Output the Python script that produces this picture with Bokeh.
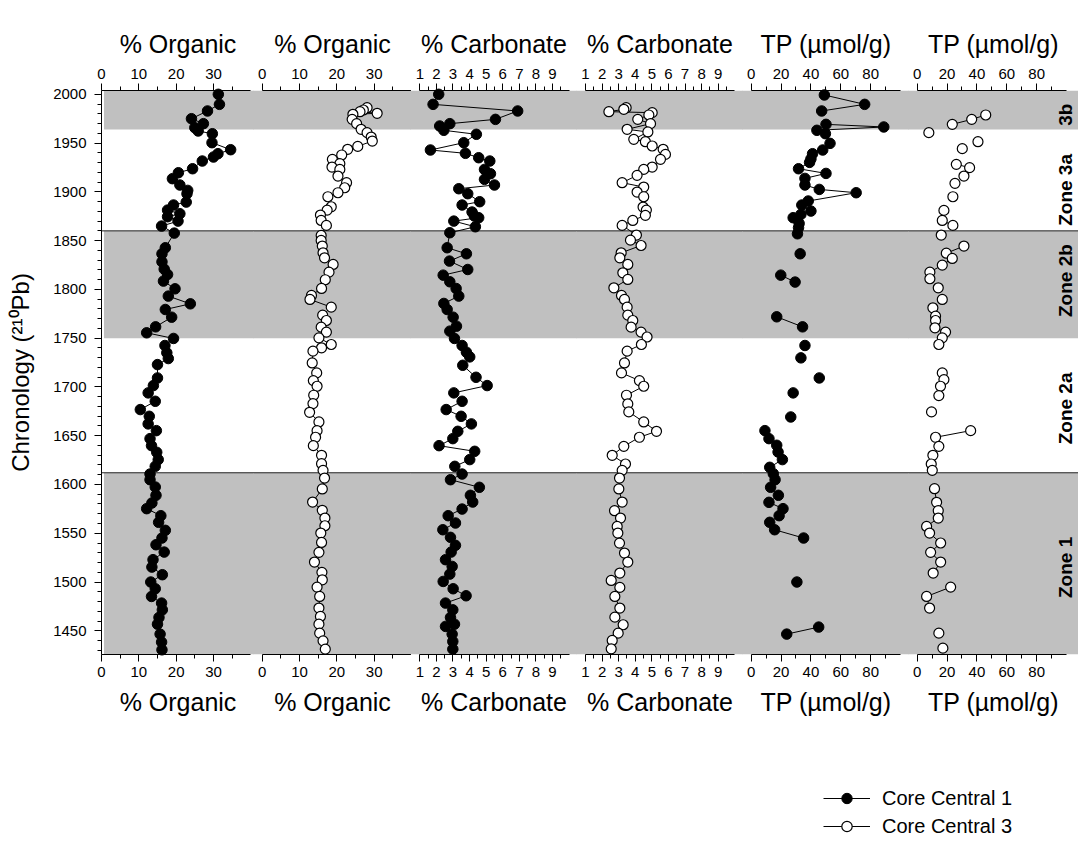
import math
from bokeh.plotting import figure
from bokeh.layouts import row, column
from bokeh.models import (Range1d, LinearAxis, FixedTicker, Span, BoxAnnotation,
                          Label, Legend, LegendItem, ColumnDataSource)
from bokeh.embed import file_html
from bokeh.resources import INLINE

nan = float("nan")

# ---------------- data ----------------
# Core Central 1, % Organic
org1_year = [2000.0, 1989.7, 1982.9, 1975.0, 1969.9, 1965.8, 1962.4, 1959.6, 1950.4, 1943.2,
             1939.1, 1935.7, 1931.6, 1923.7, 1919.6, 1913.5, 1907.0, 1901.5, 1898.1, 1889.5,
             1886.5, 1881.3, 1877.6, 1874.5, 1870.0, 1864.9, 1857.7, 1842.7, 1836.5, 1828.3,
             1820.8, 1815.3, 1808.5, 1800.6, 1793.1, 1785.2, 1779.4, 1771.5, 1761.6, 1755.5,
             1749.7, 1742.5, 1735.0, 1729.1, 1722.9, 1709.2, 1701.4, 1693.9, 1685.3, 1676.8,
             1669.9, 1662.1, 1655.2, 1647.0, 1639.8, 1633.0, 1625.5, 1618.6, 1610.7, 1604.9,
             1597.4, 1588.9, 1581.0, 1575.2, 1568.0, 1561.2, 1553.0, 1545.1, 1538.2, 1530.7,
             1522.9, 1515.3, 1507.5, 1500.0, 1493.1, 1485.2, 1478.4, 1471.5, 1463.7, 1456.8,
             1446.6, 1438.4, 1430.5]
org1_val = [31.3, 31.6, 28.4, 24.1, 27.3, 25.0, 25.9, 29.7, 29.6, 34.6,
            31.2, 30.0, 27.0, 24.4, 20.6, 19.0, 21.0, 23.1, 22.9, 22.7,
            19.3, 17.7, 21.0, 17.7, 20.5, 16.1, 19.5, 17.1, 16.2, 16.2,
            16.8, 17.7, 16.6, 19.7, 17.9, 23.8, 17.1, 18.8, 14.5, 12.1,
            19.3, 17.0, 17.5, 17.9, 15.0, 15.0, 13.9, 12.5, 14.4, 10.4,
            12.8, 12.5, 14.7, 13.0, 13.4, 14.8, 15.2, 14.4, 13.0, 13.0,
            14.4, 14.6, 13.5, 12.1, 15.9, 15.3, 17.1, 16.2, 14.6, 16.8,
            13.8, 13.5, 16.3, 13.2, 14.4, 13.4, 16.1, 16.3, 15.4, 15.0,
            15.7, 16.1, 16.2]

# Core Central 3, % Organic
org3_year = [1986.3, 1983.9, 1982.2, 1980.5, 1979.5, 1974.3, 1969.9, 1964.1, 1960.7, 1956.2,
             1952.1, 1946.6, 1943.6, 1937.8, 1933.3, 1928.9, 1925.4, 1923.0, 1916.2, 1909.4,
             1904.2, 1899.1, 1895.0, 1884.7, 1881.3, 1876.2, 1870.7, 1865.6, 1855.3, 1850.2,
             1844.4, 1837.5, 1832.4, 1825.6, 1817.7, 1809.9, 1801.0, 1793.8, 1789.7, 1781.8,
             1773.6, 1768.1, 1761.3, 1756.2, 1750.3, 1743.5, 1740.1, 1736.7, 1724.6, 1714.4,
             1706.5, 1700.7, 1691.5, 1682.9, 1674.0, 1664.1, 1655.2, 1648.4, 1639.8, 1629.9,
             1621.3, 1614.5, 1606.6, 1595.4, 1582.0, 1573.5, 1565.6, 1557.7, 1550.2, 1540.6,
             1530.4, 1520.5, 1509.9, 1502.3, 1494.8, 1485.2, 1473.3, 1464.7, 1456.8, 1447.6,
             1439.7, 1431.2]
org3_val = [28.1, 27.1, 26.2, 30.8, 24.3, 24.1, 25.3, 26.5, 28.1, 29.2,
            29.5, 25.6, 22.9, 21.3, 18.8, 20.8, 18.7, 20.8, 20.3, 22.6,
            22.1, 20.3, 17.6, 18.5, 17.4, 15.6, 15.8, 17.2, 15.8, 15.8,
            16.1, 16.3, 16.7, 19.0, 17.9, 16.9, 15.9, 13.2, 12.8, 18.5,
            16.2, 17.2, 15.8, 17.2, 15.2, 18.5, 15.9, 13.6, 13.4, 14.6,
            13.7, 14.7, 13.8, 13.6, 12.7, 15.2, 14.7, 14.3, 13.7, 15.9,
            15.9, 16.3, 16.7, 16.1, 13.5, 16.1, 16.8, 16.8, 15.7, 15.9,
            15.2, 14.0, 16.0, 16.1, 14.7, 15.4, 15.2, 15.6, 15.2, 15.4,
            16.3, 16.9]

# Core Central 1, % Carbonate
carb1_year = [2000.0, 1989.7, 1982.9, 1974.3, 1969.9, 1967.5, 1963.1, 1959.0, 1950.4, 1942.9,
              1939.5, 1935.0, 1931.6, 1923.0, 1918.6, 1912.8, 1907.0, 1903.2, 1898.1, 1889.9,
              1886.5, 1879.3, 1875.2, 1873.5, 1870.0, 1864.2, 1858.1, 1842.7, 1836.5, 1829.0,
              1820.4, 1814.6, 1807.8, 1800.9, 1793.1, 1785.6, 1779.4, 1771.5, 1762.3, 1757.2,
              1749.7, 1742.5, 1735.6, 1730.8, 1722.2, 1709.9, 1701.4, 1693.9, 1685.3, 1676.8,
              1669.9, 1662.1, 1654.5, 1647.0, 1639.8, 1634.0, 1625.5, 1618.6, 1610.7, 1604.9,
              1597.1, 1588.9, 1582.0, 1574.8, 1568.0, 1560.5, 1553.6, 1545.8, 1537.6, 1530.7,
              1522.9, 1516.0, 1508.1, 1500.6, 1493.1, 1485.9, 1478.4, 1471.5, 1463.7, 1456.8,
              1454.5, 1446.6, 1439.1, 1431.2]
carb1_val = [2.14, 1.80, 6.90, 5.56, 2.81, 2.20, 2.45, 4.41, 3.65, 1.64,
             3.75, 4.55, 5.22, 4.90, 5.26, 4.90, 5.50, 3.35, 3.89, 4.61,
             3.55, 4.15, 4.29, 4.55, 3.05, 4.35, 2.81, 2.65, 3.81, 2.79,
             3.89, 2.41, 2.81, 3.19, 3.35, 2.45, 2.65, 3.01, 3.21, 2.81,
             3.09, 3.55, 3.81, 4.01, 3.59, 4.39, 5.06, 3.05, 3.55, 2.59,
             3.49, 4.11, 3.29, 2.99, 2.16, 4.31, 4.01, 3.11, 3.55, 2.85,
             4.59, 4.05, 4.19, 3.55, 2.71, 3.15, 2.39, 2.85, 3.15, 2.89,
             2.55, 2.95, 2.81, 2.41, 3.01, 3.79, 2.55, 2.99, 2.85, 3.09,
             2.55, 2.95, 2.99, 2.99]

# Core Central 3, % Carbonate
carb3_year = [1986.3, 1984.6, 1982.2, 1981.2, 1978.8, 1974.3, 1969.9, 1964.1, 1961.4, 1953.8,
              1951.4, 1947.0, 1943.6, 1938.4, 1933.3, 1925.4, 1923.0, 1916.9, 1909.4, 1904.9,
              1899.8, 1895.0, 1884.4, 1881.3, 1875.9, 1870.7, 1865.6, 1855.7, 1850.5, 1845.0,
              1837.5, 1832.4, 1825.6, 1817.0, 1810.2, 1801.6, 1793.8, 1789.7, 1781.8, 1773.6,
              1768.1, 1761.3, 1756.2, 1751.2, 1743.5, 1736.7, 1724.6, 1714.4, 1706.5, 1700.7,
              1691.5, 1682.6, 1674.4, 1664.1, 1654.5, 1648.4, 1639.1, 1629.9, 1621.0, 1614.5,
              1606.6, 1595.4, 1582.0, 1573.1, 1565.6, 1557.0, 1550.2, 1539.9, 1529.7, 1520.5,
              1509.2, 1501.6, 1494.5, 1485.2, 1473.3, 1464.0, 1456.2, 1447.6, 1440.1, 1431.5]
carb3_val = [3.45, 3.31, 2.41, 5.02, 4.82, 4.15, 4.92, 3.51, 4.76, 3.91,
             4.61, 5.02, 5.68, 5.82, 5.52, 5.02, 4.51, 4.11, 3.21, 4.51,
             4.11, 4.51, 4.47, 4.67, 4.61, 3.85, 3.21, 4.07, 3.71, 4.35,
             3.15, 3.07, 3.55, 3.25, 3.55, 2.71, 3.17, 3.35, 3.51, 3.55,
             3.85, 3.75, 4.35, 4.71, 4.37, 3.51, 3.35, 3.17, 4.25, 4.51,
             3.47, 3.55, 3.61, 4.51, 5.28, 4.25, 3.31, 2.61, 3.41, 3.21,
             3.05, 3.01, 3.21, 2.75, 3.11, 2.91, 2.95, 3.05, 3.35, 3.55,
             3.07, 2.55, 3.07, 2.77, 3.07, 2.77, 3.27, 2.97, 2.61, 2.55]

# Core Central 1, TP (umol/g); nan marks a break in the connecting line
tp1_year = [1999.3, 1989.7, 1982.9, nan, 1969.2, 1966.5, 1963.1, 1959.6, 1949.7, 1942.9,
            1939.1, 1933.8, 1930.2, 1923.7, 1918.9, 1913.8, 1907.0, 1902.5, 1899.1, 1890.6,
            1886.5, 1880.3, 1876.9, 1873.5, 1867.6, 1863.2, 1857.0, nan, 1836.5, nan,
            1814.6, 1807.5, nan, 1771.9, 1761.6, nan, 1742.5, nan, 1729.8, nan,
            1709.2, nan, 1693.9, nan, 1669.2, nan, 1655.2, 1647.0, 1640.2, 1633.3,
            1625.5, 1617.6, 1611.1, 1604.9, 1597.1, 1588.9, 1581.7, 1575.2, 1568.0, 1561.2,
            1553.6, 1545.1, nan, 1500.0, nan, 1453.8, 1446.6]
tp1_val = [49.0, 76.0, 47.2, nan, 50.1, 88.8, 44.0, 49.7, 52.8, 47.9,
           41.1, 40.0, 39.1, 31.7, 50.1, 36.0, 36.0, 45.6, 70.3, 38.2,
           33.9, 40.0, 33.3, 28.1, 32.1, 31.7, 31.0, nan, 32.8, nan,
           19.8, 29.4, nan, 17.1, 34.4, nan, 36.0, nan, 33.3, nan,
           45.6, nan, 28.1, nan, 26.5, nan, 9.2, 11.9, 17.1, 18.0,
           20.9, 12.4, 14.8, 16.0, 13.0, 18.2, 11.9, 21.3, 18.7, 12.4,
           15.7, 35.1, nan, 30.6, nan, 45.2, 23.8]

# Core Central 3, TP (umol/g); nan marks a break in the connecting line
tp3_year = [1978.8, 1974.3, 1969.2, nan, 1960.7, nan, 1951.4, nan, 1944.3, nan,
            1928.2, 1924.8, 1916.2, nan, 1908.7, nan, 1895.0, nan, 1881.0, nan,
            1870.7, 1865.6, nan, 1855.7, nan, 1844.4, 1837.1, 1831.7, 1824.9, 1817.7,
            1810.9, nan, 1801.6, nan, 1789.7, nan, 1781.1, nan, 1772.6, 1768.1,
            1760.6, 1756.2, 1750.3, 1743.5, nan, 1714.4, 1707.5, 1700.7, 1691.1, nan,
            1674.4, nan, 1655.2, 1648.4, 1639.1, nan, 1629.9, 1621.0, 1614.5, nan,
            1595.7, 1581.7, 1573.1, 1565.6, 1557.0, 1550.2, 1540.0, 1530.4, 1520.5, 1509.2,
            nan, 1494.8, 1485.2, 1473.3, nan, 1447.6, nan, 1432.2]
tp3_val = [45.9, 36.5, 23.5, nan, 7.8, nan, 40.7, nan, 30.2, nan,
           26.2, 35.1, 31.3, nan, 25.3, nan, 23.9, nan, 17.9, nan,
           16.8, 23.9, nan, 16.1, nan, 31.3, 19.5, 23.5, 16.8, 8.5,
           8.5, nan, 14.1, nan, 16.8, nan, 10.5, nan, 12.3, 12.3,
           11.9, 19.0, 16.8, 14.5, nan, 16.8, 17.9, 15.6, 14.5, nan,
           9.6, nan, 35.8, 12.3, 14.5, nan, 10.5, 9.4, 10.1, nan,
           11.6, 13.0, 14.1, 14.1, 6.3, 8.3, 15.7, 9.0, 15.7, 10.7,
           nan, 22.4, 6.3, 8.3, nan, 14.5, nan, 17.2]

# zones: gray bands as (bottom, top); None = to the frame edge
zone_bands = [(1964.0, None), (1750.0, 1860.0), (None, 1612.0)]
zone_lines = [1860.0, 1612.0]
zone_names = ["3b", "Zone 3a", "Zone 2b", "Zone 2a", "Zone 1"]
zone_label_year = [1979.0, 1902.0, 1809.0, 1678.0, 1515.0]

year_ticks = [1450, 1500, 1550, 1600, 1650, 1700, 1750, 1800, 1850, 1900, 1950, 2000]
year_minor = list(range(1430, 2010, 10))

series_names = ["Core Central 1", "Core Central 3"]

# ---------------- layout / style ----------------
FONT = "Liberation Sans"
Y0, Y1 = 1425.7, 2003.9
TOP, FRAME_H, BOTTOM = 90, 564, 70
AXIS_PX = 149.3
GRAY = "#C0C0C0"
TITLE_SIZE = "25px"
OVERLAP = 1   # px each panel figure slides under its left neighbour (hides seams)

panels = [
    dict(fl=101, fr=254, ax=101.0, lo=0, hi=40, ticks=[0, 10, 20, 30], minor=[5, 15, 25, 35],
         title="% Organic", year=org1_year, val=org1_val, filled=True),
    dict(fl=254, fr=411, ax=261.7, lo=0, hi=40, ticks=[0, 10, 20, 30], minor=[5, 15, 25, 35],
         title="% Organic", year=org3_year, val=org3_val, filled=False),
    dict(fl=411, fr=577, ax=419.3, lo=1, hi=10, ticks=list(range(1, 10)),
         minor=[i + 0.5 for i in range(1, 10)],
         title="% Carbonate", year=carb1_year, val=carb1_val, filled=True),
    dict(fl=577, fr=743, ax=585.0, lo=1, hi=10, ticks=list(range(1, 10)),
         minor=[i + 0.5 for i in range(1, 10)],
         title="% Carbonate", year=carb3_year, val=carb3_val, filled=False),
    dict(fl=743, fr=909, ax=750.7, lo=0, hi=100, ticks=[0, 20, 40, 60, 80], minor=[10, 30, 50, 70, 90],
         title="TP (µmol/g)", year=tp1_year, val=tp1_val, filled=True),
    dict(fl=909, fr=1078, ax=916.7, lo=0, hi=100, ticks=[0, 20, 40, 60, 80], minor=[10, 30, 50, 70, 90],
         title="TP (µmol/g)", year=tp3_year, val=tp3_val, filled=False),
]


def style_axis(ax, title_size=TITLE_SIZE):
    ax.level = "overlay"
    ax.axis_line_color = "black"
    ax.axis_line_width = 1
    ax.major_tick_line_color = "black"
    ax.minor_tick_line_color = "black"
    ax.major_tick_in = 0
    ax.major_tick_out = 7
    ax.minor_tick_in = 0
    ax.minor_tick_out = 4
    ax.major_label_text_font = FONT
    ax.major_label_text_font_size = "15px"
    ax.major_label_text_color = "black"
    ax.axis_label_text_font = FONT
    ax.axis_label_text_font_size = title_size
    ax.axis_label_text_font_style = "normal"
    ax.axis_label_text_color = "black"


figs = []
for i, pn in enumerate(panels):
    s = AXIS_PX / (pn["hi"] - pn["lo"])
    fl = pn["fl"] if i == 0 else pn["fl"] - OVERLAP
    x0 = pn["lo"] - (pn["ax"] - fl) / s
    x1 = pn["lo"] + (pn["fr"] - pn["ax"]) / s
    left_border = pn["fl"] if i == 0 else 0
    w = pn["fr"] if i == 0 else pn["fr"] - fl
    extra = {} if i == 0 else dict(margin=(0, 0, 0, -OVERLAP))
    p = figure(width=w, height=TOP + FRAME_H + BOTTOM,
               x_range=Range1d(x0, x1), y_range=Range1d(Y0, Y1),
               x_axis_location=None, y_axis_location=None,
               toolbar_location=None, output_backend="svg",
               min_border_left=left_border, min_border_right=0,
               min_border_top=TOP, min_border_bottom=BOTTOM,
               outline_line_color=None, background_fill_color=None,
               border_fill_color=None, **extra)
    p.grid.visible = False

    # gray zone bands reaching past the canvas sides
    pad_x = (x1 - x0)
    band_left = x0 + 2.5 / s if i == 0 else x0 - pad_x
    for b, t in zone_bands:
        p.add_layout(BoxAnnotation(left=band_left, right=x1 + pad_x,
                                   bottom=Y0 if b is None else b,
                                   top=Y1 if t is None else t,
                                   fill_color=GRAY, fill_alpha=1.0, line_color=None))
    for yl in zone_lines:
        p.add_layout(Span(location=yl, dimension="width", line_color="#222222", line_width=1))

    for side in ("above", "below"):
        ax = LinearAxis(bounds=(pn["lo"], pn["hi"]),
                        ticker=FixedTicker(ticks=pn["ticks"], minor_ticks=pn["minor"]),
                        axis_label=pn["title"])
        style_axis(ax)
        ax.major_label_standoff = 5
        ax.axis_label_standoff = 8
        p.add_layout(ax, side)

    if i == 0:
        yax = LinearAxis(ticker=FixedTicker(ticks=year_ticks, minor_ticks=year_minor),
                         axis_label="Chronology (²¹⁰Pb)")
        style_axis(yax, title_size="24px")
        yax.major_label_standoff = 8
        yax.axis_label_standoff = 16
        p.add_layout(yax, "left")

    src = ColumnDataSource(dict(x=pn["val"], y=pn["year"]))
    p.line("x", "y", source=src, line_color="black", line_width=1, level="overlay")
    if pn["filled"]:
        p.scatter("x", "y", source=src, marker="circle", size=10.5,
                  fill_color="black", line_color="black", level="overlay")
    else:
        p.scatter("x", "y", source=src, marker="circle", size=10,
                  fill_color="white", line_color="black", line_width=1.2, level="overlay")

    if i == len(panels) - 1:
        lx = pn["lo"] + (1065 - pn["ax"]) / s
        for name, yy in zip(zone_names, zone_label_year):
            p.add_layout(Label(x=lx, y=yy, text=name, angle=90, angle_units="deg",
                               text_align="center", text_baseline="middle",
                               text_font=FONT, text_font_style="bold",
                               text_font_size="19px", text_color="black"))
    figs.append(p)

# legend strip (legend glyphs only; no data drawn here)
LEG_H = 867 - (TOP + FRAME_H + BOTTOM)
lf = figure(width=1078, height=LEG_H, x_range=Range1d(0, 1), y_range=Range1d(0, 1),
            x_axis_location=None, y_axis_location=None, toolbar_location=None,
            output_backend="svg", min_border=0, outline_line_color=None)
lf.grid.visible = False
blank = ColumnDataSource(dict(x=[nan], y=[nan]))
l1 = lf.line("x", "y", source=blank, line_color="black", line_width=1)
s1 = lf.scatter("x", "y", source=blank, marker="circle", fill_color="black", line_color="black")
l3 = lf.line("x", "y", source=blank, line_color="black", line_width=1)
s3 = lf.scatter("x", "y", source=blank, marker="circle", fill_color="white",
                line_color="black", line_width=1.2)
legend = Legend(items=[LegendItem(label=series_names[0], renderers=[l1, s1]),
                       LegendItem(label=series_names[1], renderers=[l3, s3])],
                location=(823, 28), glyph_width=47, glyph_height=26, label_standoff=12,
                spacing=2, padding=0, margin=0, border_line_color=None,
                background_fill_alpha=0, label_text_font=FONT,
                label_text_font_size="20px", label_text_color="black")
lf.add_layout(legend)

layout = column(row(*figs, spacing=0), lf, spacing=0)
open("out.html", "w").write(file_html(layout, INLINE))
